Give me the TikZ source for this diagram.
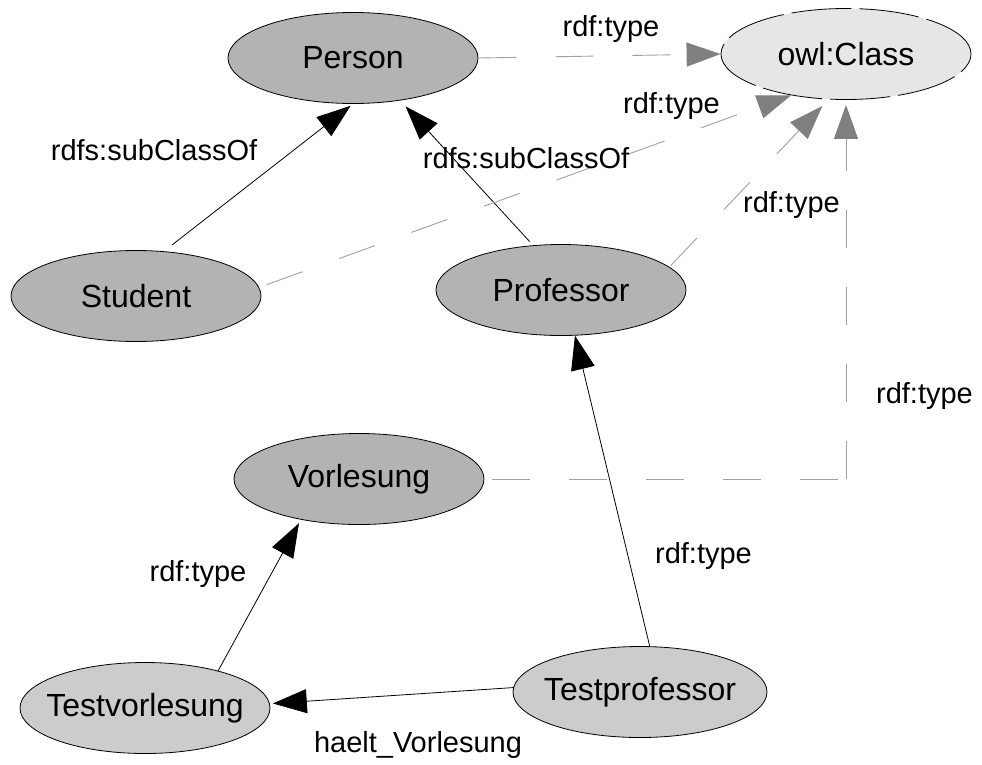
\documentclass[tikz,border=0pt]{standalone}
\usepackage{fontspec}
\setmainfont{Liberation Sans}
\usetikzlibrary{shapes.geometric,arrows.meta}
\definecolor{clsgray}{HTML}{B3B3B3}
\definecolor{instgray}{HTML}{CCCCCC}
\definecolor{metagray}{HTML}{E6E6E6}
\definecolor{typeline}{HTML}{A0A0A0}
\definecolor{typehead}{HTML}{808080}
\begin{document}
\begin{tikzpicture}[x=1pt,y=-1pt,
  cls/.style={ellipse, draw=black, line width=0.8pt, minimum width=250pt,
    minimum height=91pt, inner xsep=-40pt, inner ysep=0pt, fill=clsgray,
    font=\fontsize{32}{32}\selectfont},
  inst/.style={cls, fill=instgray},
  meta/.style={cls, fill=metagray, dash pattern=on 60pt off 8pt},
  lbl/.style={font=\fontsize{29}{29}\selectfont, anchor=base, inner sep=0pt},
  sub/.style={draw=black, line width=0.8pt,
    -{Triangle[length=34pt,width=24pt]}},
  typline/.style={draw=typeline, line width=0.9pt, dash pattern=on 38pt off 39pt},
  typ/.style={typline, -{Triangle[length=34pt,width=24pt,color=typehead]}}]
  \useasboundingbox (0,0) rectangle (982,764);

  % classes and instances
  \node[cls]  (person)        at (353,58)  {Person};
  \node[meta] (owl)           at (846,54)  {owl:Class};
  \node[cls]  (student)       at (136,296) {Student};
  \node[cls]  (professor)     at (561,290) {Professor};
  \node[cls]  (vorlesung)     at (359,479) {Vorlesung};
  \node[inst] (testvorlesung) at (145,708) {Testvorlesung};
  \node[inst, minimum width=254pt] (testprofessor) at (640,692) {Testprofessor};

  % subclass and property links
  \draw[sub, shorten <=10pt, shorten >=3pt] (student.58) -- (person.-90);
  \draw[sub, shorten <=5pt, shorten >=8pt] (professor.122) -- (person.-42.4);
  \draw[sub, shorten >=4pt] (testvorlesung.27) -- (vorlesung.-145.2);
  \draw[sub] (testprofessor.78) -- (professor.-73.3);
  \draw[sub, shorten >=3pt] (testprofessor.178) -- (testvorlesung.2);

  % rdf:type links to owl:Class
  \draw[typ] (person.east) -- (owl.west);
  \draw[typ, shorten <=8pt] (student.4.9) -- (owl.-143.3);
  \draw[typ, shorten <=2pt, shorten >=9pt] (professor.12.9) -- (owl.-111.5);
  \coordinate (bend) at (vorlesung.east -| owl.south);
  \draw[typline, shorten <=8pt] (vorlesung.east) -- (bend);
  \draw[typ, shorten >=5pt] (bend) -- (owl.south);

  % edge labels
  \node[lbl] (l1) at (611,36)    {rdf:type};
  \node[lbl] (l2) at (154,160)   {rdfs:subClassOf};
  \node[lbl] (l3) at (671.5,113) {rdf:type};
  \node[lbl] (l4) at (526,168)   {rdfs:subClassOf};
  \node[lbl] (l5) at (791.5,212) {rdf:type};
  \node[lbl] (l6) at (924.5,403) {rdf:type};
  \node[lbl] (l7) at (703.5,563) {rdf:type};
  \node[lbl] (l8) at (198,581)   {rdf:type};
  \node[lbl] (l9) at (418,752)   {haelt\_Vorlesung};
\end{tikzpicture}
\end{document}
